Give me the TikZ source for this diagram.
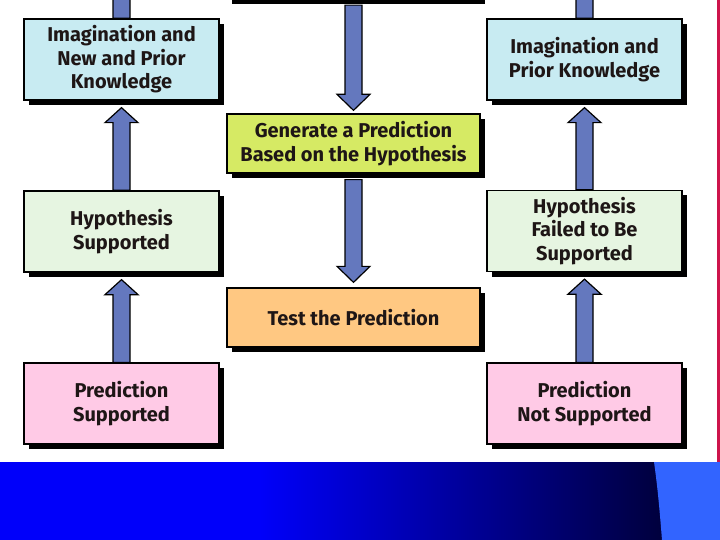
\documentclass[tikz,border=0pt]{standalone}
\usepackage{fontspec}
\setmainfont{Fira Sans}
\usetikzlibrary{shadows,calc}
\definecolor{cblue}{RGB}{200,235,242}
\definecolor{cgen}{RGB}{214,234,100}
\definecolor{chyp}{RGB}{230,245,225}
\definecolor{ctest}{RGB}{255,200,130}
\definecolor{cpred}{RGB}{255,202,230}
\definecolor{carrow}{RGB}{100,120,190}
\definecolor{ctext}{RGB}{30,22,22}
\definecolor{ccrim}{RGB}{205,20,75}
\definecolor{cbar}{RGB}{0,0,250}
\definecolor{cdark}{RGB}{0,0,60}
\definecolor{clight}{RGB}{50,100,255}
\tikzset{
  box/.style={draw=black, line width=1.3pt, align=center, text=ctext,
    font=\fontsize{20}{23.5}\selectfont\bfseries,
    general shadow={fill=black, shadow xshift=5pt, shadow yshift=-5pt}},
  sidebox/.style={box, minimum width=195pt, minimum height=81pt, inner sep=0pt},
  midbox/.style={box, minimum width=253pt, minimum height=59pt, inner sep=0pt},
  fat/.style={fill=carrow, draw=black, line width=1.2pt, line join=miter}
}
\newcommand\fatdown[2]{\draw[fat] let \p1=(#1), \p2=(#2) in
  (\x1-8.5pt,\y1) -- (\x1+8.5pt,\y1) -- (\x1+8.5pt,\y2+16pt) -- (\x1+16.5pt,\y2+16pt)
  -- (\x1,\y2) -- (\x1-16.5pt,\y2+16pt) -- (\x1-8.5pt,\y2+16pt) -- cycle;}
\newcommand\fatup[2]{\draw[fat] let \p1=(#1), \p2=(#2) in
  (\x1-8.5pt,\y1) -- (\x1+8.5pt,\y1) -- (\x1+8.5pt,\y2-15pt) -- (\x1+16.5pt,\y2-15pt)
  -- (\x1,\y2) -- (\x1-16.5pt,\y2-15pt) -- (\x1-8.5pt,\y2-15pt) -- cycle;}
\begin{document}
\begin{tikzpicture}[x=1pt,y=-1pt]
\useasboundingbox (0,0) rectangle (720,540);
\fill[white] (0,0) rectangle (720,540);
% cut-off box at the top
\node[midbox, fill=white] (topbox) at (353.5,-30) {};
% boxes
\node[sidebox, fill=cblue] (imgL) at (121.5,59.5) {Imagination and\\New and Prior\\Knowledge};
\node[sidebox, fill=cblue] (imgR) at (584.5,59.5) {Imagination and\\Prior Knowledge};
\node[midbox, fill=cgen] (gen) at (353.5,143.5) {Generate a Prediction\\Based on the Hypothesis};
\node[sidebox, fill=chyp] (hypL) at (121.5,231.5) {Hypothesis\\Supported};
\node[sidebox, fill=chyp] (hypR) at (584.5,231) {Hypothesis\\Failed to Be\\Supported};
\node[midbox, fill=ctest] (test) at (353.5,317.5) {Test the Prediction};
\node[sidebox, fill=cpred] (predL) at (121.5,403.5) {Prediction\\Supported};
\node[sidebox, fill=cpred] (predR) at (584.5,403.5) {Prediction\\Not Supported};
% free ends above the top edge
\coordinate (topL) at (121.5,-40);
\coordinate (topR) at (584,-40);
% arrows
\fatup{imgL.north}{topL}
\fatup{imgR.north}{topR}
\fatdown{[yshift=-5pt]topbox.south}{[yshift=3pt]gen.north}
\fatdown{[yshift=-6pt]gen.south}{[yshift=5pt]test.north}
\fatup{hypL.north}{[yshift=-7pt]imgL.south}
\fatup{predL.north}{[yshift=-7pt]hypL.south}
\fatup{hypR.north}{[yshift=-7pt]imgR.south}
\fatup{predR.north}{[yshift=-7pt]hypR.south}
% right edge line
\fill[ccrim] (716.5,0) rectangle (720,462);
% bottom bar
\fill[cbar] (0,462) rectangle (260,540);
\shade[left color=cbar, right color=cdark] (259,462) rectangle (664,540);
\fill[clight] (654,462) .. controls (658,490) and (660,515) .. (662,540) -- (720,540) -- (720,462) -- cycle;
\end{tikzpicture}
\end{document}
